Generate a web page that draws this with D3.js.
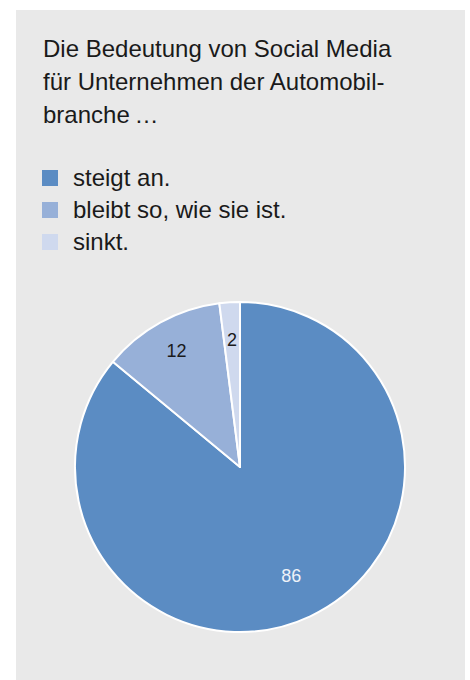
<!DOCTYPE html>
<html>
<head>
<meta charset="utf-8">
<script src="https://cdn.jsdelivr.net/npm/d3@7"></script>
<style>
  html, body { margin: 0; padding: 0; background: #ffffff; }
  svg { display: block; }
  text { font-family: "Liberation Sans", Arial, Helvetica, sans-serif; }
</style>
</head>
<body>
<svg id="chart" width="470" height="680"></svg>
<script>
// Survey answers and their shares (percent)
const categories = ["steigt an.", "bleibt so, wie sie ist.", "sinkt."];
const values = [86, 12, 2];
const colors = ["#5b8cc3", "#97b0d8", "#cfd9ee"];
const labelColors = ["#eef2f8", "#1a1a1a", "#1a1a1a"];
const titleLines = [
  "Die Bedeutung von Social Media",
  "für Unternehmen der Automobil-",
  "branche\u2009…"
];

const width = 470, height = 680;
const svg = d3.select("#chart");

// grey card behind everything
svg.append("rect")
  .attr("x", 16).attr("y", 10)
  .attr("width", 449).attr("height", height - 10)
  .attr("fill", "#e9e9e9");

// title
svg.append("g")
  .selectAll("text")
  .data(titleLines)
  .join("text")
  .attr("x", 43)
  .attr("y", (d, i) => 57 + i * 33)
  .attr("font-size", 24)
  .attr("fill", "#1a1a1a")
  .text(d => d);

// legend
const color = d3.scaleOrdinal().domain(categories).range(colors);
const legendY = d3.scalePoint().domain(categories).range([178, 242]);
const legend = svg.append("g")
  .selectAll("g")
  .data(categories)
  .join("g")
  .attr("transform", d => `translate(42,${legendY(d)})`);
legend.append("rect")
  .attr("x", 0).attr("y", -8)
  .attr("width", 16).attr("height", 16)
  .attr("fill", d => color(d));
legend.append("text")
  .attr("x", 31).attr("y", 8)
  .attr("font-size", 24)
  .attr("fill", "#1a1a1a")
  .text(d => d);

// pie
const cx = 240, cy = 467, radius = 165;
const data = categories.map((c, i) => ({ category: c, value: values[i], idx: i }));
const pie = d3.pie().sort(null).value(d => d.value);
const arcs = pie(data);
const arc = d3.arc().innerRadius(0).outerRadius(radius);
const labelRadius = [0.73, 0.8, 0.77];

const g = svg.append("g").attr("transform", `translate(${cx},${cy})`);
g.selectAll("path")
  .data(arcs)
  .join("path")
  .attr("d", arc)
  .attr("fill", d => color(d.data.category))
  .attr("stroke", "#ffffff")
  .attr("stroke-width", 2)
  .attr("stroke-linejoin", "round");

g.selectAll("text")
  .data(arcs)
  .join("text")
  .attr("transform", d => {
    const r = radius * labelRadius[d.data.idx];
    const c = d3.arc().innerRadius(r).outerRadius(r).centroid(d);
    return `translate(${c[0]},${c[1]})`;
  })
  .attr("text-anchor", "middle")
  .attr("dominant-baseline", "central")
  .attr("font-size", 18)
  .attr("fill", d => labelColors[d.data.idx])
  .text(d => d.data.value);
</script>
</body>
</html>
